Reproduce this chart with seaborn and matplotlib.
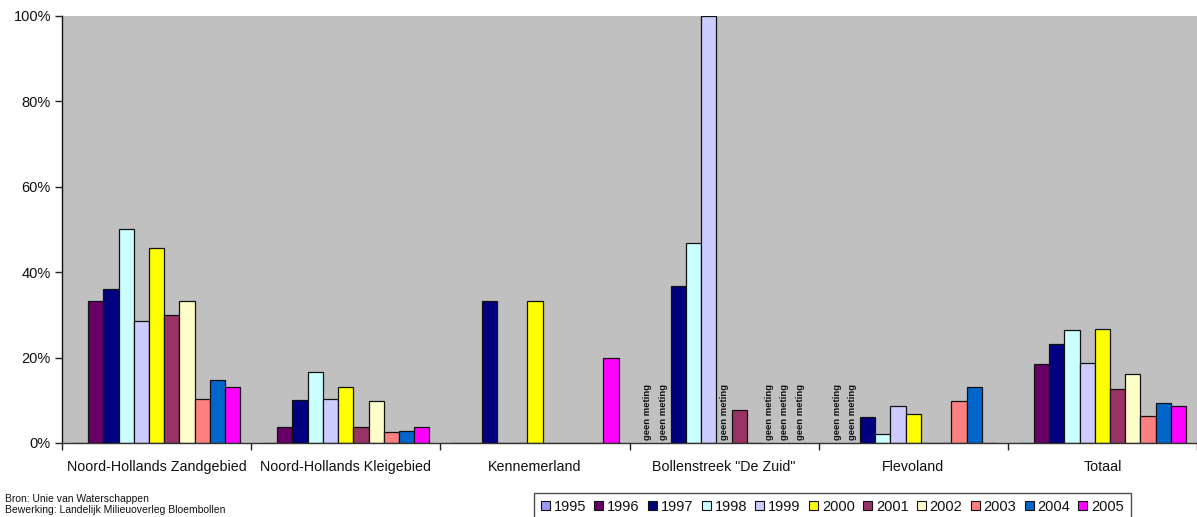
import numpy as np
import pandas as pd
import matplotlib
matplotlib.use("Agg")
import matplotlib.pyplot as plt
import matplotlib.patches as mpatches
import seaborn as sns

# ---- data ----
regions = ["Noord-Hollands Zandgebied", "Noord-Hollands Kleigebied", "Kennemerland",
           "Bollenstreek \"De Zuid\"", "Flevoland", "Totaal"]
years = ["1995", "1996", "1997", "1998", "1999", "2000", "2001", "2002", "2003", "2004", "2005"]
colors = ["#9999FF", "#660066", "#000080", "#CCFFFF", "#CCCCFF", "#FFFF00",
          "#993366", "#FFFFCC", "#FF8080", "#0066CC", "#FF00FF"]
NM = np.nan  # geen meting
zandgebied = [0, 33.3, 36.1, 50.0, 28.6, 45.7, 29.9, 33.3, 10.2, 14.8, 13.2]
kleigebied = [0, 3.8, 10.0, 16.7, 10.2, 13.2, 3.8, 9.9, 2.5, 2.9, 3.8]
kennemerland = [0, 0, 33.3, 0, 0, 33.3, 0, 0, 0, 0, 20.0]
bollenstreek = [NM, NM, 36.8, 46.8, 100.0, NM, 7.7, 0, NM, NM, NM]
flevoland = [NM, NM, 6.2, 2.1, 8.7, 6.7, 0, 0, 9.9, 13.2, 0]
totaal = [0, 18.4, 23.2, 26.5, 18.7, 26.7, 12.6, 16.2, 6.4, 9.4, 8.7]
yticks = [0, 20, 40, 60, 80, 100]
ytick_labels = ["0%", "20%", "40%", "60%", "80%", "100%"]
nm_label = "geen meting"
source_lines = ["Bron: Unie van Waterschappen", "Bewerking: Landelijk Milieuoverleg Bloembollen"]

series = [zandgebied, kleigebied, kennemerland, bollenstreek, flevoland, totaal]
rows = []
for reg, vals in zip(regions, series):
    for yr, v in zip(years, vals):
        rows.append({"regio": reg, "jaar": yr, "waarde": v})
df = pd.DataFrame(rows)

sns.set_style("ticks")
plt.rcParams["font.family"] = ["Liberation Sans", "DejaVu Sans"]

W, H = 1197, 517
fig = plt.figure(figsize=(W / 100, H / 100), dpi=100)
ax = fig.add_axes([62 / W, (H - 443) / H, (W - 62) / W, (443 - 16) / H])
ax.set_facecolor("#C0C0C0")

group_width = 0.885
palette = dict(zip(years, colors))
sns.barplot(data=df.dropna(), x="regio", y="waarde", hue="jaar", order=regions,
            hue_order=years, palette=palette, width=group_width, errorbar=None,
            saturation=1, edgecolor="#111111", linewidth=0.9, ax=ax, legend=False, gap=0)

# geen meting labels
bw = group_width / len(years)
for gi, vals in enumerate(series):
    for k, v in enumerate(vals):
        if np.isnan(v):
            xc = gi - group_width / 2 + (k + 0.5) * bw
            ax.text(xc, 0.7, nm_label, rotation=90, ha="center", va="bottom",
                    fontsize=6.8, color="#111111", fontweight="bold")

ax.set_xlim(-0.5, -0.5 + (W - 62) / 192.6)
ax.set_ylim(0, 100)
ax.set_yticks(yticks)
ax.set_yticklabels(ytick_labels, fontsize=10.5, color="#111111")
ax.set_xticks(np.arange(len(regions) + 1) - 0.5)
ax.set_xticklabels([])
ax.set_xticks(np.arange(len(regions)), minor=True)
ax.set_xticklabels(regions, minor=True, fontsize=10.3, color="#111111")
ax.tick_params(axis="x", which="minor", length=0, pad=12)
ax.tick_params(axis="x", which="major", length=5, width=1, color="#222222")
ax.tick_params(axis="y", length=5, width=1, color="#222222", pad=3)
ax.set_xlabel("")
ax.set_ylabel("")
for s in ["top", "right"]:
    ax.spines[s].set_visible(False)
ax.spines["left"].set_color("#111111")
ax.spines["bottom"].set_color("#333333")
ax.spines["left"].set_linewidth(1)
ax.spines["bottom"].set_linewidth(1)

# legend
handles = [mpatches.Patch(facecolor=c, edgecolor="#111111", linewidth=0.8, label=y)
           for y, c in zip(years, colors)]
leg = fig.legend(handles=handles, loc="upper left", bbox_to_anchor=(534 / W, (H - 493) / H),
                 ncol=len(years), fontsize=10.5, handlelength=0.62, handleheight=0.62,
                 handletextpad=0.27, columnspacing=0.56, borderpad=0.45, frameon=True,
                 fancybox=False, borderaxespad=0)
leg.get_frame().set_edgecolor("#222222")
leg.get_frame().set_linewidth(1)
for t in leg.get_texts():
    t.set_color("#111111")

fig.text(5 / W, (H - 499) / H, source_lines[0], fontsize=7.5, va="center", ha="left", color="#111111")
fig.text(5 / W, (H - 510) / H, source_lines[1], fontsize=7.5, va="center", ha="left", color="#111111")

fig.savefig("out.png", dpi=100)
